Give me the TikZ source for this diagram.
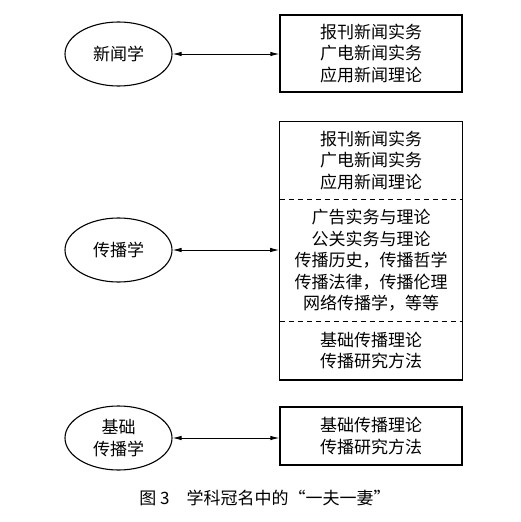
\documentclass[tikz,border=0pt]{standalone}
\usepackage{fontspec}
\newfontfamily\cjk{Noto Sans CJK SC}
\usetikzlibrary{shapes.geometric,arrows.meta,positioning,fit}

\begin{document}
\begin{tikzpicture}[
    x=1pt, y=-1pt,
    font={\cjk\fontsize{17pt}{21.5pt}\selectfont},
    subject/.style={ellipse, draw, line width=1.1pt, minimum width=107pt, minimum height=64pt, inner sep=0pt, align=center},
    box/.style={rectangle, draw, line width=1.3pt, minimum width=182pt, align=center, inner sep=0pt},
    section/.style={rectangle, minimum width=182pt, align=center, inner sep=0pt},
    arrow/.style={{Latex[length=9pt,width=4.5pt]}-{Latex[length=9pt,width=4.5pt]}, line width=0.9pt},
    divider/.style={line width=1pt, dash pattern=on 5pt off 4pt},
    caption/.style={font={\cjk\fontsize{17pt}{20pt}\selectfont}}
]
\useasboundingbox (0,0) rectangle (520,522);

% Journalism
\node[subject] (xinwen) at (118.5,54) {新闻学};
\node[box, minimum height=77pt] (box1) at (371,53.5) {报刊新闻实务\\广电新闻实务\\应用新闻理论};

% Communication
\node[subject] (chuanbo) at (118.5,250) {传播学};
\node[section, minimum height=77pt] (sec1) at (371,160.5) {报刊新闻实务\\广电新闻实务\\应用新闻理论};
\node[section, minimum height=122pt, below=0pt of sec1] (sec2) {广告实务与理论\\公关实务与理论\\传播历史，传播哲学\\传播法律，传播伦理\\网络传播学，等等};
\node[section, minimum height=58pt, below=0pt of sec2] (sec3) {基础传播理论\\传播研究方法};
\node[box, fit=(sec1)(sec3)] (box2) {};
\draw[divider] (sec1.south west) -- (sec1.south east);
\draw[divider] (sec2.south west) -- (sec2.south east);

% Basic communication
\node[subject] (jichu) at (118.5,438) {基础\\传播学};
\node[box, minimum height=58pt] (box3) at (371,436) {基础传播理论\\传播研究方法};

% Arrows
\draw[arrow] (xinwen.east) -- (xinwen.east -| box1.west);
\draw[arrow] (chuanbo.east) -- (chuanbo.east -| box2.west);
\draw[arrow] (jichu.east) -- (jichu.east -| box3.west);

% Caption
\node[caption] (title) at (265,498) {图 3\quad 学科冠名中的“一夫一妻”};

\end{tikzpicture}
\end{document}
